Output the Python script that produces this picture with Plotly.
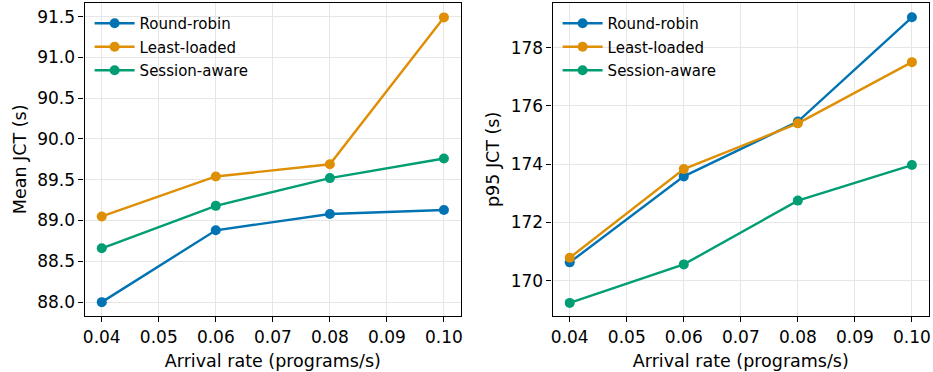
import plotly.graph_objects as go

rates = [0.04, 0.06, 0.08, 0.10]
series_names = ["Round-robin", "Least-loaded", "Session-aware"]
colors = ["#0173B2", "#DE8F05", "#029E73"]

mean_rr = [88.00, 88.88, 89.08, 89.13]
mean_ll = [89.05, 89.54, 89.69, 91.49]
mean_sa = [88.66, 89.18, 89.52, 89.76]

p95_rr = [170.63, 173.58, 175.46, 179.04]
p95_ll = [170.79, 173.83, 175.40, 177.50]
p95_sa = [169.24, 170.56, 172.75, 173.97]

x_ticks = [0.04, 0.05, 0.06, 0.07, 0.08, 0.09, 0.10]
mean_ticks = [88.0, 88.5, 89.0, 89.5, 90.0, 90.5, 91.0, 91.5]
p95_ticks = [170, 172, 174, 176, 178]

FONT = "DejaVu Sans"
fig = go.Figure()

for name, col, ys in zip(series_names, colors, [mean_rr, mean_ll, mean_sa]):
    fig.add_trace(go.Scatter(x=rates, y=ys, name=name, mode="lines+markers",
                             line=dict(color=col, width=2.4),
                             marker=dict(color=col, size=10),
                             xaxis="x", yaxis="y", legend="legend",
                             legendgroup="a" + name))
for name, col, ys in zip(series_names, colors, [p95_rr, p95_ll, p95_sa]):
    fig.add_trace(go.Scatter(x=rates, y=ys, name=name, mode="lines+markers",
                             line=dict(color=col, width=2.4),
                             marker=dict(color=col, size=10),
                             xaxis="x2", yaxis="y2", legend="legend2",
                             legendgroup="b" + name))

axis_common = dict(showline=True, linecolor="black", linewidth=1.3, mirror=True,
                   ticks="outside", ticklen=5, tickwidth=1.2, tickcolor="black",
                   showgrid=True, gridcolor="#e6e6e6", gridwidth=1, zeroline=False,
                   tickfont=dict(family=FONT, size=17, color="black"))

TITLE_FONT = dict(family=FONT, size=17.5)
ydom = [1 - 316 / 372, 1 - 2.7 / 372]
leg_common = dict(xanchor="left", yanchor="top", bgcolor="rgba(255,255,255,0)",
                  font=dict(family=FONT, size=15), tracegroupgap=1, itemwidth=40)
fig.update_layout(
    width=933, height=372, margin=dict(l=0, r=0, t=0, b=0),
    paper_bgcolor="white", plot_bgcolor="white",
    font=dict(family=FONT, color="black"),
    xaxis=dict(axis_common, domain=[83 / 933, 461 / 933], range=[0.037, 0.103],
               tickvals=x_ticks, tickformat=".2f", anchor="y",
               title=dict(text="Arrival rate (programs/s)", font=TITLE_FONT, standoff=9)),
    yaxis=dict(axis_common, domain=ydom, range=[87.83, 91.67], tickvals=mean_ticks,
               tickformat=".1f", anchor="x",
               title=dict(text="Mean JCT (s)", font=TITLE_FONT, standoff=6)),
    xaxis2=dict(axis_common, domain=[553 / 933, 931 / 933], range=[0.037, 0.103],
                tickvals=x_ticks, tickformat=".2f", anchor="y2",
                title=dict(text="Arrival rate (programs/s)", font=TITLE_FONT, standoff=9)),
    yaxis2=dict(axis_common, domain=ydom, range=[168.79, 179.54], tickvals=p95_ticks,
                anchor="x2",
                title=dict(text="p95 JCT (s)", font=TITLE_FONT, standoff=6)),
    legend=dict(leg_common, x=88 / 933, y=1 - 7 / 372),
    legend2=dict(leg_common, x=558 / 933, y=1 - 7 / 372),
)

fig.write_html("out.html")
